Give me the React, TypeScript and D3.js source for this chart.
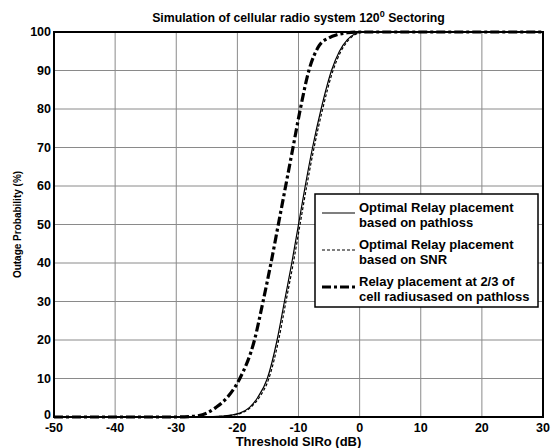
import React, { useEffect, useRef } from 'react';
import * as d3 from 'd3';

// Optimal relay placement based on pathloss (solid)
const pathlossX = [-50, -30, -24, -21, -19.6, -18, -16.7, -15.1, -13.5, -12.3, -11.1, -10.0, -8.9, -7.7, -6.3, -4.6, -3.3, -2, -0.8, 0.5, 30];
const pathlossY = [0, 0, 0.1, 0.5, 1, 2.5, 5, 10, 20, 30, 40, 50, 60, 70, 80, 90, 95, 98, 99.5, 100, 100];

// Optimal relay placement based on SNR (dashed)
const snrX = [-50, -30, -23.8, -20.8, -19.4, -17.8, -16.45, -14.85, -13.25, -12.05, -10.85, -9.75, -8.65, -7.45, -6.05, -4.35, -3.05, -1.75, -0.55, 0.75, 30];
const snrY = [0, 0, 0.1, 0.5, 1, 2.5, 5, 10, 20, 30, 40, 50, 60, 70, 80, 90, 95, 98, 99.5, 100, 100];

// Relay placement at 2/3 of cell radius (dash-dot)
const twoThirdX = [-50, -30, -27, -25, -23.5, -21.7, -19.6, -17.2, -15.8, -14.5, -13.3, -12.1, -10.9, -9.7, -8.3, -6.6, -5, -3.7, -2, 0, 30];
const twoThirdY = [0, 0, 0.2, 1, 2.5, 5, 10, 20, 30, 40, 50, 60, 70, 80, 90, 96.5, 98.5, 99.3, 99.8, 100, 100];

const xTicks = [-50, -40, -30, -20, -10, 0, 10, 20, 30];
const yTicks = [0, 10, 20, 30, 40, 50, 60, 70, 80, 90, 100];

const legendLabels = [
  ['Optimal Relay placement', 'based on pathloss'],
  ['Optimal Relay placement', 'based on SNR'],
  ['Relay placement at 2/3 of', 'cell radiusased on pathloss'],
];

export default function App() {
  const ref = useRef<SVGSVGElement>(null);

  useEffect(() => {
    const svg = d3.select(ref.current);
    svg.selectAll('*').remove();

    const W = 551, H = 448;
    const left = 54, right = 543, top = 32, bottom = 417;
    const font = 'Arial, "Liberation Sans", sans-serif';

    svg.append('rect').attr('width', W).attr('height', H).attr('fill', '#fff');

    const x = d3.scaleLinear().domain([-50, 30]).range([left, right]);
    const y = d3.scaleLinear().domain([0, 100]).range([bottom, top]);

    // grid
    const grid = svg.append('g');
    grid.selectAll('line.gx')
      .data(xTicks.slice(1, -1))
      .enter().append('line')
      .attr('x1', d => x(d)).attr('x2', d => x(d))
      .attr('y1', top).attr('y2', bottom)
      .attr('stroke', '#8a8a8a').attr('stroke-width', 1);
    grid.selectAll('line.gy')
      .data(yTicks.slice(1, -1))
      .enter().append('line')
      .attr('x1', left).attr('x2', right)
      .attr('y1', d => y(d)).attr('y2', d => y(d))
      .attr('stroke', '#8a8a8a').attr('stroke-width', 1);

    const line = d3.line<[number, number]>()
      .x(d => x(d[0]))
      .y(d => y(d[1]))
      .curve(d3.curveMonotoneX);

    const series = [
      { xs: pathlossX, ys: pathlossY, width: 1.2, dash: null },
      { xs: snrX, ys: snrY, width: 1.2, dash: '3,2' },
      { xs: twoThirdX, ys: twoThirdY, width: 3.2, dash: '9,3,3,3' },
    ];

    series.forEach(s => {
      const pts = s.xs.map((v, i) => [v, s.ys[i]] as [number, number]);
      svg.append('path')
        .datum(pts)
        .attr('d', line)
        .attr('fill', 'none')
        .attr('stroke', '#000')
        .attr('stroke-width', s.width)
        .attr('stroke-dasharray', s.dash);
    });

    // axes box
    svg.append('rect')
      .attr('x', left).attr('y', top)
      .attr('width', right - left).attr('height', bottom - top)
      .attr('fill', 'none').attr('stroke', '#000').attr('stroke-width', 2);

    // tick labels
    svg.selectAll('text.xt')
      .data(xTicks)
      .enter().append('text')
      .attr('x', d => x(d)).attr('y', 432)
      .attr('text-anchor', 'middle')
      .attr('font-family', font).attr('font-weight', 'bold').attr('font-size', 12.5)
      .text(d => d);

    svg.selectAll('text.yt')
      .data(yTicks)
      .enter().append('text')
      .attr('x', left - 3).attr('y', d => y(d) + (d === 0 ? 2 : 4))
      .attr('text-anchor', 'end')
      .attr('font-family', font).attr('font-weight', 'bold').attr('font-size', 12.5)
      .text(d => d);

    // axis labels
    svg.append('text')
      .attr('x', (left + right) / 2).attr('y', 446)
      .attr('text-anchor', 'middle')
      .attr('font-family', font).attr('font-weight', 'bold').attr('font-size', 13)
      .text('Threshold SIRo (dB)');

    svg.append('text')
      .attr('transform', `translate(21, ${(top + bottom) / 2}) rotate(-90)`)
      .attr('text-anchor', 'middle')
      .attr('font-family', font).attr('font-weight', 'bold').attr('font-size', 10)
      .text('Outage Probability (%)');

    // title
    const title = svg.append('text')
      .attr('x', (left + right) / 2).attr('y', 22)
      .attr('text-anchor', 'middle')
      .attr('font-family', font).attr('font-weight', 'bold').attr('font-size', 12.3);
    title.append('tspan').text('Simulation of cellular radio system 120');
    title.append('tspan').attr('dy', -5).attr('font-size', 9).text('0');
    title.append('tspan').attr('dy', 5).text(' Sectoring');

    // legend
    const lg = svg.append('g');
    lg.append('rect')
      .attr('x', 315).attr('y', 194)
      .attr('width', 223).attr('height', 113)
      .attr('fill', '#fff').attr('stroke', '#000').attr('stroke-width', 1.5);

    series.forEach((s, i) => {
      const ly = 213 + i * 37;
      lg.append('line')
        .attr('x1', 322).attr('x2', 355)
        .attr('y1', ly).attr('y2', ly)
        .attr('stroke', '#000')
        .attr('stroke-width', s.width)
        .attr('stroke-dasharray', s.dash);
      legendLabels[i].forEach((t, j) => {
        lg.append('text')
          .attr('x', 359).attr('y', 212 + i * 37 + j * 15)
          .attr('font-family', font).attr('font-weight', 'bold').attr('font-size', 13)
          .text(t);
      });
    });
  }, []);

  return (
    <svg
      ref={ref}
      width={551}
      height={448}
      style={{ position: 'absolute', left: 0, top: 0 }}
    />
  );
}
